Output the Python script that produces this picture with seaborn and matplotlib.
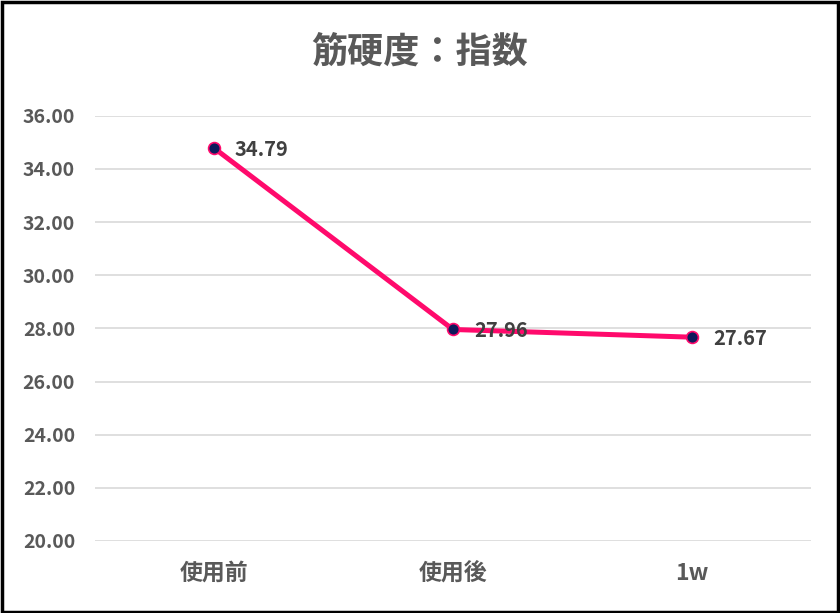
import pandas as pd
import numpy as np
import seaborn as sns
import matplotlib.pyplot as plt
from matplotlib.patches import Rectangle

categories = ['使用前', '使用後', '1w']
values = [34.79, 27.96, 27.67]
yticks = [20, 22, 24, 26, 28, 30, 32, 34, 36]

sns.set_style('white')
plt.rcParams['font.family'] = ['Noto Sans CJK JP', 'DejaVu Sans']

df = pd.DataFrame({'time': categories, 'value': values})

fig = plt.figure(figsize=(8.4, 6.13), dpi=100)
ax = fig.add_axes([0.1125, 0.1175, 0.8535, 0.6935])

sns.lineplot(data=df, x='time', y='value', ax=ax, color='#FF0A6C', linewidth=3.6,
             marker='o', markersize=8.5, markerfacecolor='#0E1A5C',
             markeredgecolor='#FF0A6C', markeredgewidth=1.2, sort=False, zorder=3)

for i, v in enumerate(values):
    ax.annotate('{:.2f}'.format(v), (i, v), xytext=(15, -1), textcoords='offset points',
                ha='left', va='center', fontsize=14.5, fontweight='bold', color='#404040', zorder=4)

ax.set_xlim(-0.5, 2.5)
ax.set_ylim(20, 36)
ax.set_yticks(yticks)
ax.set_yticklabels(['{:.2f}'.format(t) for t in yticks])
ax.yaxis.grid(True, color='#D9D9D9', linewidth=1.2)
ax.set_axisbelow(True)
for s in ax.spines.values():
    s.set_visible(False)
ax.tick_params(axis='y', length=0, labelsize=14, labelcolor='#595959', pad=14)
ax.tick_params(axis='x', length=0, labelsize=16.5, labelcolor='#595959', pad=15)
for lab in ax.get_yticklabels():
    lab.set_fontweight('bold')
for lab in ax.get_xticklabels():
    lab.set_fontweight('bold')
ax.set_xlabel('')
ax.set_ylabel('')

fig.text(0.5, 0.915, '筋硬度：指数', ha='center', va='center', fontsize=26,
         fontweight='bold', color='#595959')

fig.patches.append(Rectangle((0.002, 0.002), 0.996, 0.995, transform=fig.transFigure,
                             fill=False, edgecolor='black', linewidth=2.5))

fig.savefig('out.png', dpi=100)
